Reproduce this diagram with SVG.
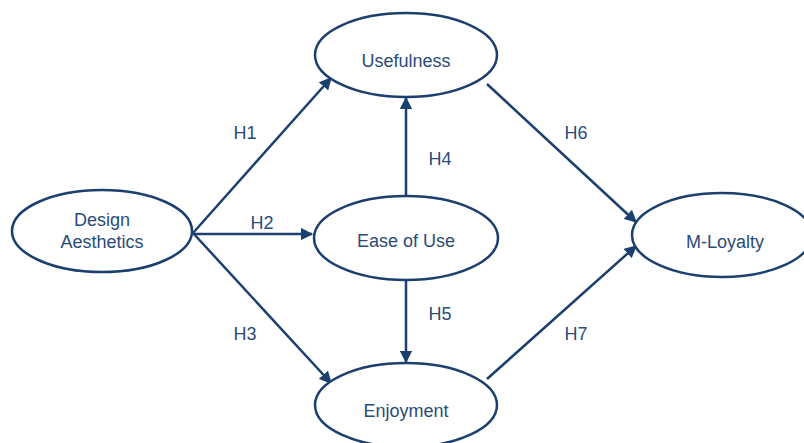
<svg xmlns="http://www.w3.org/2000/svg" width="804" height="443" viewBox="0 0 804 443">
<style>
.node ellipse{fill:#fff;stroke:#1b3f6e;stroke-width:2.5}
.node text,.lbl{font-family:"Liberation Sans",Arial,sans-serif;font-size:18px;fill:#2a4b78;text-anchor:middle}
.conn line{stroke:#1b3f6e;stroke-width:2.5;marker-end:url(#ah)}
</style>
<defs>
<marker id="ah" viewBox="0 0 10 10" refX="9" refY="5" markerWidth="5" markerHeight="5" orient="auto" markerUnits="strokeWidth">
<path d="M0,0 L10,5 L0,10 z" fill="#1b3f6e"/>
</marker>
</defs>
<rect width="804" height="443" fill="#fff"/>
<g id="connectors" class="conn">
<line x1="193" y1="233" x2="331" y2="78"/>
<line x1="193" y1="234" x2="312" y2="234"/>
<line x1="193" y1="233" x2="331" y2="383"/>
<line x1="406" y1="195" x2="406" y2="98"/>
<line x1="406" y1="280" x2="406" y2="362"/>
<line x1="487" y1="84" x2="636" y2="222"/>
<line x1="487" y1="379" x2="636" y2="246"/>
</g>
<g id="labels">
<text class="lbl" x="245" y="139">H1</text>
<text class="lbl" x="262" y="229">H2</text>
<text class="lbl" x="245" y="340">H3</text>
<text class="lbl" x="440" y="165">H4</text>
<text class="lbl" x="440" y="320">H5</text>
<text class="lbl" x="576" y="139">H6</text>
<text class="lbl" x="576" y="340">H7</text>
</g>
<g id="design" class="node">
<ellipse cx="102" cy="231" rx="90" ry="41"/>
<text x="102" y="226">Design</text>
<text x="102" y="248">Aesthetics</text>
</g>
<g id="usefulness" class="node">
<ellipse cx="406" cy="55" rx="91" ry="42"/>
<text x="406" y="67">Usefulness</text>
</g>
<g id="ease" class="node">
<ellipse cx="406" cy="238" rx="92" ry="42"/>
<text x="406" y="247">Ease of Use</text>
</g>
<g id="enjoyment" class="node">
<ellipse cx="406" cy="405" rx="91" ry="42"/>
<text x="406" y="417">Enjoyment</text>
</g>
<g id="loyalty" class="node">
<ellipse cx="722" cy="235" rx="90" ry="42"/>
<text x="725" y="248">M-Loyalty</text>
</g>
</svg>
